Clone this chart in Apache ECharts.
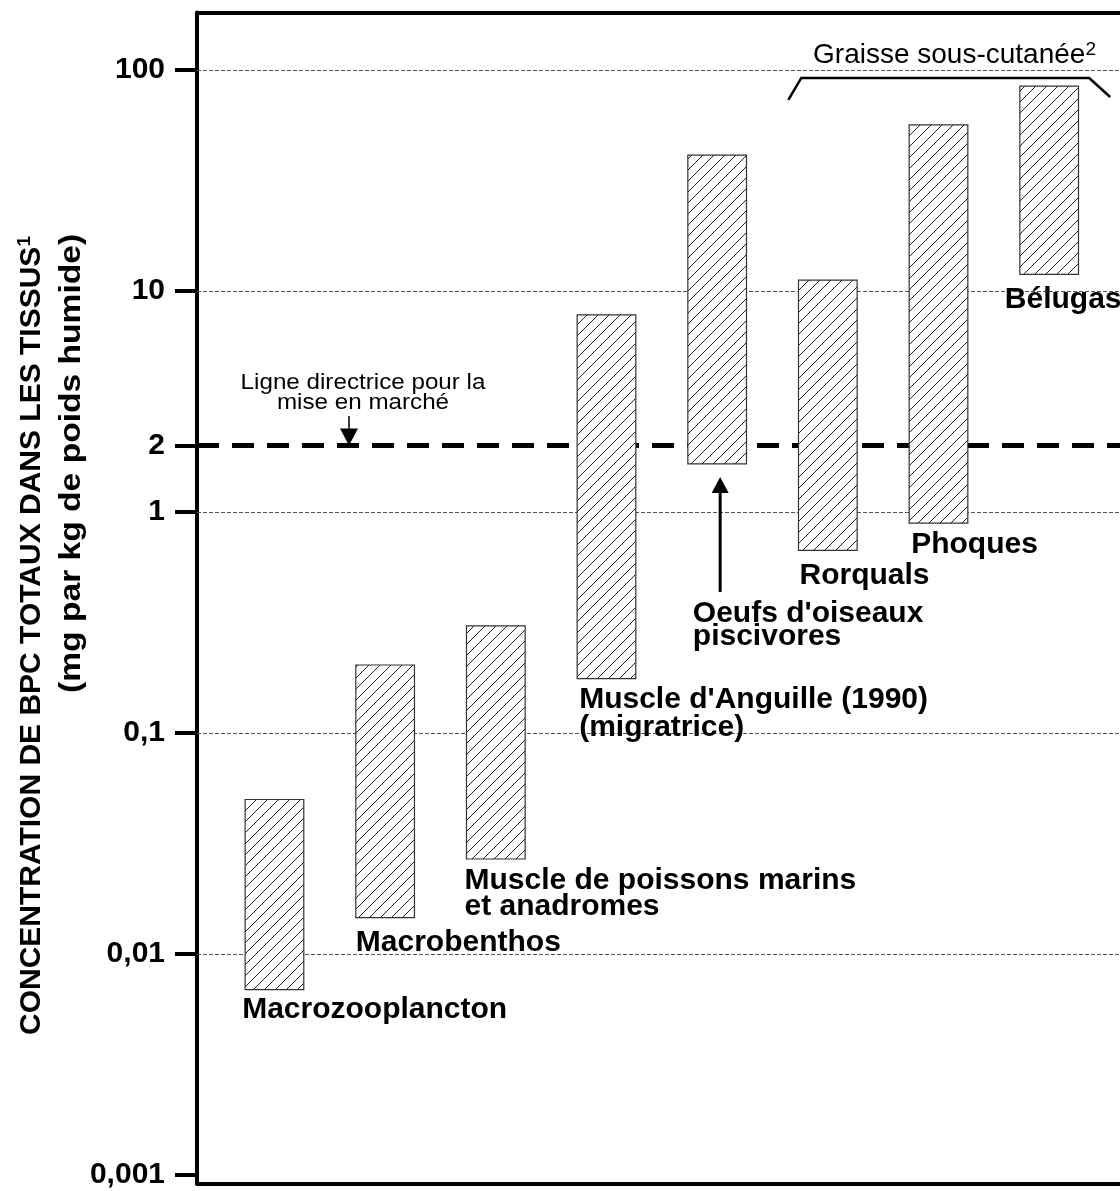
<!DOCTYPE html>
<html>
<head>
<meta charset="utf-8">
<script src="https://cdn.jsdelivr.net/npm/echarts@6.0.0/dist/echarts.min.js"></script>
<style>
  html, body { margin: 0; padding: 0; background: #fff; }
  #chart { width: 1120px; height: 1191px; }
</style>
</head>
<body>
<div id="chart"></div>
<script>
// groupes, de gauche à droite
const groupes = [
  "Macrozooplancton",
  "Macrobenthos",
  "Muscle de poissons marins\net anadromes",
  "Muscle d'Anguille (1990)\n(migratrice)",
  "Oeufs d'oiseaux\npiscivores",
  "Rorquals",
  "Phoques",
  "Bélugas"
];
// concentrations de BPC (mg/kg poids humide) : bas et haut de chaque plage
const minimums = [0.0069, 0.0146, 0.0269, 0.176, 1.65, 0.67, 0.89, 11.9];
const maximums = [0.050, 0.203, 0.305, 7.8, 41.2, 11.2, 56.4, 84.6];
const graduations = [0.001, 0.01, 0.1, 1, 2, 10, 100];
const lignesGrille = [0.01, 0.1, 1, 10, 100];
const ligneDirectrice = 2;

const police = '"Liberation Sans", Arial, Helvetica, sans-serif';
const demiLargeur = 0.265;
// position des étiquettes par rapport au coin bas-gauche de la barre
const decalages = [[-3, 20], [0, 25], [-2, 22], [2, 21], [5, 150], [1, 25], [2, 22], [-15, 25]];
const interlignes = [26, 26, 26, 28, 23, 26, 26, 26];

// motif hachuré
function hachures() {
  const c = document.createElement("canvas");
  c.width = 11;
  c.height = 11;
  const ctx = c.getContext("2d");
  ctx.fillStyle = "#fff";
  ctx.fillRect(0, 0, 11, 11);
  ctx.strokeStyle = "#222";
  ctx.lineWidth = 1;
  ctx.beginPath();
  ctx.moveTo(0, 11); ctx.lineTo(11, 0);
  ctx.moveTo(-2, 2); ctx.lineTo(2, -2);
  ctx.moveTo(9, 13); ctx.lineTo(13, 9);
  ctx.stroke();
  return c;
}
const motif = hachures();

const chart = echarts.init(document.getElementById("chart"));

function libelle(v) {
  const g = graduations.find(g => Math.abs(Math.log10(g) - Math.log10(v)) < 1e-6);
  return String(g !== undefined ? g : v).replace(".", ",");
}

const trait = { show: true, onZero: false, lineStyle: { color: "#000", width: 4 } };

const option = {
  animation: false,
  backgroundColor: "#fff",
  grid: { left: 197, top: 12.5, right: 0, bottom: 7.5 },
  xAxis: [
    { type: "value", min: 0.3, max: 8.64, axisLine: trait, axisTick: { show: false }, axisLabel: { show: false }, splitLine: { show: false } },
    { type: "value", position: "top", min: 0.3, max: 8.64, axisLine: trait, axisTick: { show: false }, axisLabel: { show: false }, splitLine: { show: false } }
  ],
  yAxis: {
    type: "log",
    logBase: 10,
    min: 0.000915,
    max: 182,
    axisLine: trait,
    axisTick: { show: true, length: 22, customValues: graduations, lineStyle: { width: 4, color: "#000" } },
    axisLabel: {
      customValues: graduations,
      margin: 32,
      formatter: libelle,
      fontSize: 30, fontWeight: "bold", color: "#000", fontFamily: police
    },
    splitLine: { show: false }
  },
  series: [
    {
      type: "line",
      data: [],
      z: 1,
      markLine: {
        silent: true,
        symbol: "none",
        label: { show: false },
        animation: false,
        data: lignesGrille.map(v => ({ yAxis: v, lineStyle: { type: [4, 2], color: "#555", width: 1 } }))
          .concat([{ yAxis: ligneDirectrice, lineStyle: { type: [22, 13], color: "#000", width: 5 } }])
      }
    },
    {
      type: "custom",
      z: 5,
      data: groupes.map((g, i) => [i + 1, minimums[i], maximums[i]]),
      encode: { x: 0, y: [1, 2] },
      renderItem(params, api) {
        const i = params.dataIndex;
        const x = api.value(0);
        const haut = api.coord([x - demiLargeur, api.value(2)]);
        const bas = api.coord([x + demiLargeur, api.value(1)]);
        const children = [
          {
            type: "rect",
            shape: { x: haut[0], y: haut[1], width: bas[0] - haut[0], height: bas[1] - haut[1] },
            style: { fill: { image: motif, repeat: "repeat" }, stroke: "#333", lineWidth: 1.2 }
          },
          {
            type: "text",
            x: haut[0] + decalages[i][0],
            y: bas[1] + decalages[i][1] - interlignes[i] / 2,
            style: {
              text: groupes[i],
              font: "bold 30px " + police,
              lineHeight: interlignes[i],
              fill: "#000",
              align: "left",
              verticalAlign: "top"
            }
          }
        ];
        if (i === 4) {
          // flèche vers les oeufs
          const cx = (haut[0] + bas[0]) / 2 + 3;
          const b = bas[1];
          children.push(
            { type: "line", shape: { x1: cx, y1: b + 26, x2: cx, y2: b + 128 }, style: { stroke: "#000", lineWidth: 3 } },
            { type: "polygon", shape: { points: [[cx, b + 13], [cx - 8.5, b + 29], [cx + 8.5, b + 29]] }, style: { fill: "#000" } }
          );
        }
        return { type: "group", children };
      }
    }
  ]
};
chart.setOption(option);

// annotations
const [, y2] = chart.convertToPixel({ gridIndex: 0 }, [1, ligneDirectrice]);
const [x6, y100] = chart.convertToPixel({ gridIndex: 0 }, [6, 100]);
const [x8] = chart.convertToPixel({ gridIndex: 0 }, [8, 100]);

chart.setOption({
  graphic: [
    {
      type: "text", x: 32, y: 1035, rotation: Math.PI / 2,
      style: {
        text: "{t|CONCENTRATION DE BPC TOTAUX DANS LES TISSUS}{s|1}",
        align: "left", verticalAlign: "middle",
        rich: {
          t: { fontSize: 30, fontWeight: "bold", fontFamily: police, fill: "#000", lineHeight: 34 },
          s: { fontSize: 19, fontWeight: "bold", fontFamily: police, fill: "#000", lineHeight: 34, verticalAlign: "top" }
        }
      }
    },
    {
      type: "text", x: 72, y: 693, rotation: Math.PI / 2, scaleX: 1.12,
      style: {
        text: "(mg par kg de poids humide)",
        font: "bold 30px " + police, fill: "#000",
        align: "left", verticalAlign: "middle"
      }
    },
    {
      type: "text", x: 363, y: 372.5, scaleX: 1.1,
      style: {
        text: "Ligne directrice pour la\nmise en marché",
        font: "22px " + police, fill: "#000", lineHeight: 20,
        align: "center", verticalAlign: "top"
      }
    },
    { type: "line", shape: { x1: 349, y1: 416, x2: 349, y2: y2 - 16 }, style: { stroke: "#000", lineWidth: 1.5 } },
    { type: "polygon", shape: { points: [[349, y2], [340, y2 - 17], [358, y2 - 17]] }, style: { fill: "#000" } },
    {
      type: "polyline",
      shape: { points: [[x6 - 39.5, y100 + 30], [x6 - 26.5, y100 + 8], [x8 + 40, y100 + 8], [x8 + 61, y100 + 27]] },
      style: { stroke: "#000", lineWidth: 2.5, fill: null }
    },
    {
      type: "text", x: (x6 + x8) / 2 + 16, y: y100 - 15,
      style: {
        text: "{t|Graisse sous-cutanée}{s|2}",
        align: "center", verticalAlign: "middle",
        rich: {
          t: { fontSize: 28, fontFamily: police, fill: "#000", lineHeight: 30 },
          s: { fontSize: 19, fontFamily: police, fill: "#000", lineHeight: 30, verticalAlign: "top" }
        }
      }
    }
  ]
});
</script>
</body>
</html>
